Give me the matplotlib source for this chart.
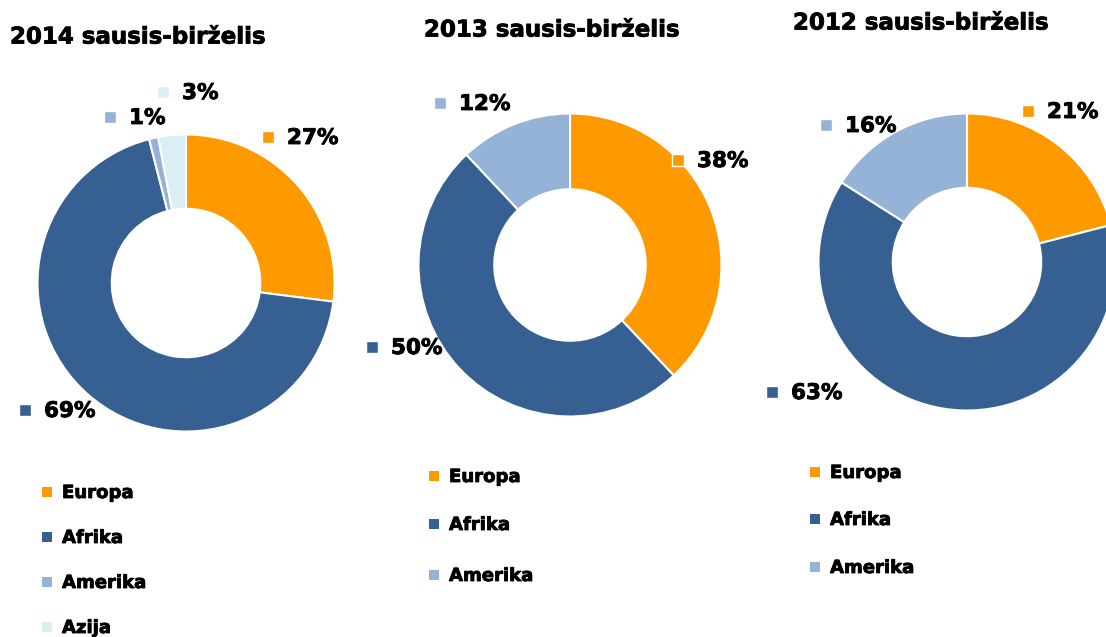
import matplotlib
matplotlib.use('Agg')
import matplotlib.pyplot as plt
import matplotlib.patheffects as pe

plt.rcParams['font.family'] = ['DejaVu Sans']
plt.rcParams['font.weight'] = 'bold'

W, H = 1106, 637

# data
titles = ['2014 sausis-birželis', '2013 sausis-birželis', '2012 sausis-birželis']
regions_2014 = ['Europa', 'Afrika', 'Amerika', 'Azija']
values_2014 = [27, 69, 1, 3]
regions_2013 = ['Europa', 'Afrika', 'Amerika']
values_2013 = [38, 50, 12]
regions_2012 = ['Europa', 'Afrika', 'Amerika']
values_2012 = [21, 63, 16]

colors = {'Europa': '#FF9900', 'Afrika': '#376092', 'Amerika': '#95B3D7', 'Azija': '#DAEEF3'}

# layout (pixels): donut centre and radius, title pos, label pos, legend pos
charts = [
    dict(regions=regions_2014, values=values_2014, title=titles[0],
         cx=186, cy=283, r=150, title_xy=(10, 37),
         label_xy=[(268, 137), (25, 410), (110, 117), (163, 92)],
         legend_x=47, legend_y=[492, 537, 582, 627]),
    dict(regions=regions_2013, values=values_2013, title=titles[1],
         cx=570, cy=265, r=153, title_xy=(424, 30),
         label_xy=[(678, 160), (372, 347), (440, 103)],
         legend_x=434, legend_y=[476, 524, 575]),
    dict(regions=regions_2012, values=values_2012, title=titles[2],
         cx=967, cy=262, r=150, title_xy=(793, 23),
         label_xy=[(1028, 111), (772, 392), (826, 125)],
         legend_x=815, legend_y=[472, 519, 567]),
]

fig = plt.figure(figsize=(W / 100, H / 100), dpi=100)

for c in charts:
    ax = fig.add_axes([(c['cx'] - c['r']) / W, 1 - (c['cy'] + c['r']) / H,
                       2 * c['r'] / W, 2 * c['r'] / H])
    ax.pie(c['values'], colors=[colors[k] for k in c['regions']],
           startangle=90, counterclock=False, radius=1,
           wedgeprops=dict(width=0.5, edgecolor='white', linewidth=1.5))
    ax.set_xlim(-1.01, 1.01)
    ax.set_ylim(-1.01, 1.01)
    ax.axis('off')

# overlay in pixel coords for labels, titles, legends
ov = fig.add_axes([0, 0, 1, 1], facecolor='none')
ov.set_xlim(0, W)
ov.set_ylim(H, 0)
ov.axis('off')

heavy = [pe.withStroke(linewidth=0.6, foreground='black')]

for c in charts:
    tx, ty = c['title_xy']
    ov.text(tx, ty, c['title'], fontsize=16.5, fontweight='bold', va='center', ha='left',
            path_effects=heavy)
    for k, v, (lx, ly) in zip(c['regions'], c['values'], c['label_xy']):
        ov.scatter([lx], [ly], marker='s', s=85, color=colors[k], edgecolors='white', linewidths=1)
        ov.text(lx + 19, ly + 1, f'{v}%', fontsize=15.5, fontweight='bold', va='center', ha='left',
                path_effects=heavy)
    for k, ly in zip(c['regions'], c['legend_y']):
        ov.scatter([c['legend_x']], [ly], marker='s', s=50, color=colors[k], linewidths=0)
        ov.text(c['legend_x'] + 15, ly + 1, k, fontsize=13, fontweight='bold', va='center', ha='left',
                path_effects=heavy)

fig.savefig('out.png', dpi=100)
